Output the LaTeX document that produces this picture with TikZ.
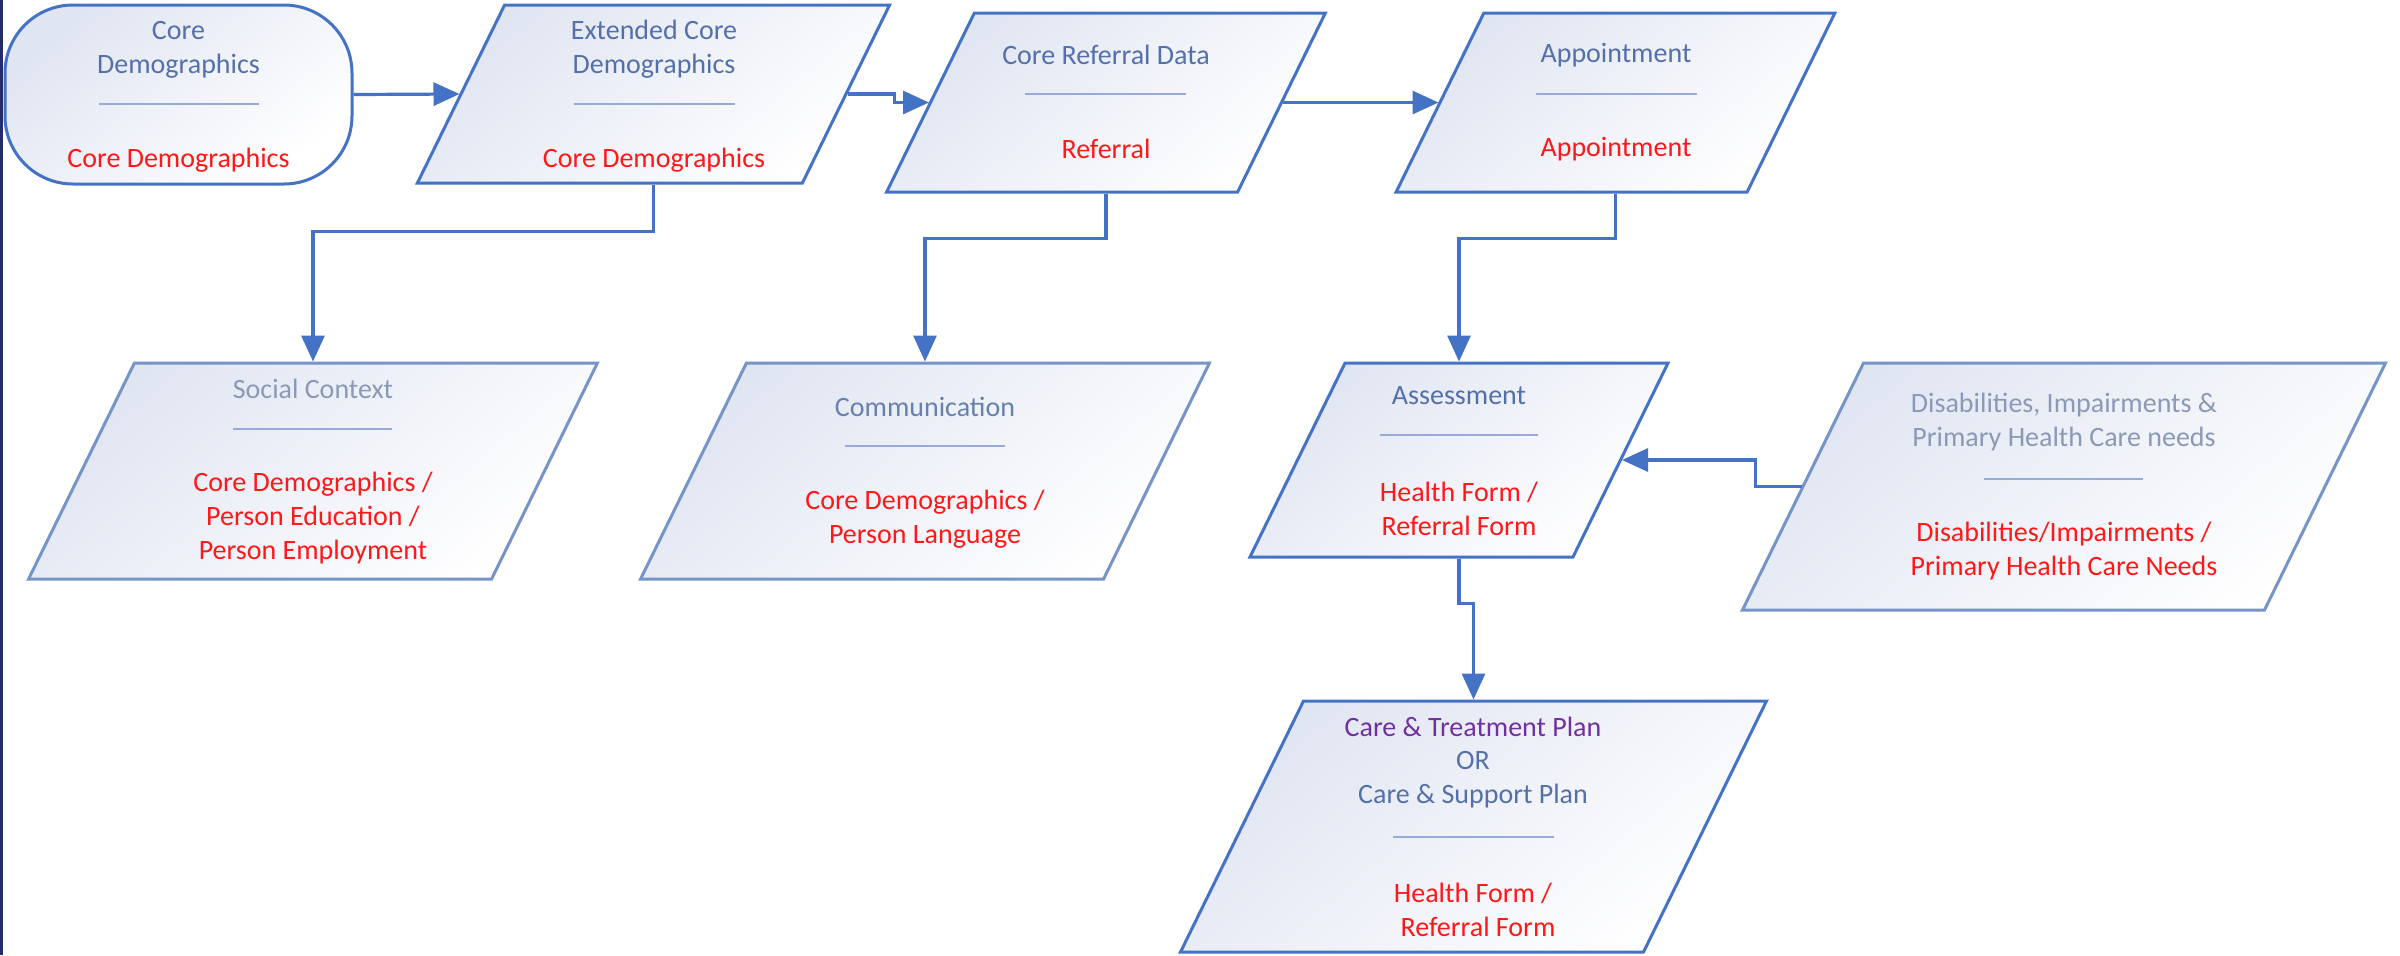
\documentclass[tikz,border=0pt]{standalone}
\usepackage{fontspec}
\setmainfont{Carlito}
\usetikzlibrary{shapes.geometric,arrows.meta,calc}
\definecolor{bdr}{RGB}{68,114,196}
\definecolor{bdrl}{RGB}{118,148,200}
\definecolor{hdr}{RGB}{84,112,170}
\definecolor{hdrm}{RGB}{104,128,172}
\definecolor{hdrl}{RGB}{138,154,182}
\definecolor{redt}{RGB}{255,24,24}
\definecolor{purp}{RGB}{112,48,160}
\definecolor{divc}{RGB}{150,172,215}
\definecolor{fillc}{RGB}{224,229,242}
\definecolor{navy}{RGB}{35,45,110}
\begin{document}
\begin{tikzpicture}[x=0.5pt,y=-0.5pt,
  shapebase/.style={draw=#1, line width=1.5pt, top color=fillc, bottom color=white, shading angle=40, inner sep=0pt},
  para/.style n args={3}{shapebase=#3, shape=rectangle, xslant=0.49,
     minimum width=#1*0.5pt, minimum height=#2*0.5pt},
  termbox/.style={shapebase=bdr, shape=rectangle, rounded corners=34pt, minimum width=347*0.5pt, minimum height=179*0.5pt},
  txt/.style={inner sep=0pt, align=center, font=\fontsize{14}{17}\selectfont},
  hd/.style={txt, text=#1},
  rd/.style={txt, text=redt},
  divl/.style={draw=divc, line width=1.4pt},
  conn/.style={draw=bdr, line width=1.6pt, -{Triangle[length=13pt,width=11.5pt]}}]
\useasboundingbox (0,0) rectangle (2400,955);
\fill[white] (0,0) rectangle (2400,955);
\fill[navy] (0,0) rectangle (3,955);

% shapes
\node[termbox] (term) at (178.5,94.5) {};
\node[para={385}{178}{bdr}] (ext) at (653.5,94) {};
\node[para={351}{179}{bdr}] (ref) at (1106,102.5) {};
\node[para={351}{179}{bdr}] (app) at (1615.5,102.5) {};
\node[para={463}{216}{bdrl}] (soc) at (313,471) {};
\node[para={463}{216}{bdrl}] (com) at (925,471) {};
\node[para={323}{194}{bdr}] (ass) at (1459,460) {};
\node[para={522}{247}{bdrl}] (dis) at (2064,486.5) {};
\node[para={463}{251}{bdr}] (care) at (1473.5,826.5) {};

% texts
\node[hd=hdr] (termh) at (178.5,50) {Core\\Demographics};
\draw[divl] (99,104) -- (259,104);
\node[rd] (termr) at (178.5,160) {Core Demographics};

\node[hd=hdr] (exth) at (654,49.5) {Extended Core\\Demographics};
\draw[divl] (574,104) -- (735,104);
\node[rd] (extr) at (654,160) {Core Demographics};

\node[hd=hdr] (refh) at (1106,55) {Core Referral Data};
\draw[divl] (1025,94) -- (1186,94);
\node[rd] (refr) at (1106,149) {Referral};

\node[hd=hdr] (apph) at (1616,55) {Appointment};
\draw[divl] (1536,94) -- (1697,94);
\node[rd] (appr) at (1616,149) {Appointment};

\node[hd=hdrl] (soch) at (313,389) {Social Context};
\draw[divl] (233,429) -- (392,429);
\node[rd] (socr) at (313,518.5) {Core Demographics /\\Person Education /\\Person Employment};

\node[hd=hdrm] (comh) at (925,407) {Communication};
\draw[divl] (845,446) -- (1005,446);
\node[rd] (comr) at (925,519.5) {Core Demographics /\\Person Language};

\node[hd=hdr] (assh) at (1459,396) {Assessment};
\draw[divl] (1380,435) -- (1538,435);
\node[rd] (assr) at (1459,508.5) {Health Form /\\Referral Form};

\node[hd=hdrl] (dish) at (2064,422) {Disabilities, Impairments \&\\Primary Health Care needs};
\draw[divl] (1984,479) -- (2143,479);
\node[rd] (disr) at (2064,551.5) {Disabilities/Impairments /\\Primary Health Care Needs};

\node[hd=purp] (careh1) at (1473,727) {Care \& Treatment Plan};
\node[hd=hdr] (careh2) at (1473,780) {OR\\Care \& Support Plan};
\draw[divl] (1393,837) -- (1554,837);
\node[rd] (carer) at (1473,909.5) {Health Form /\\\hspace*{5pt}Referral Form};

% connectors
\draw[conn] (term.east) -- (ext.west);
\draw[conn] (ext.east) -- ++(47,0) |- (ref.west);
\draw[conn] (ref.east) -- (app.west);
\draw[conn] (ext.center |- ext.south) -- ++(0,47) -| (soc.center |- soc.north);
\draw[conn] (ref.center |- ref.south) -- ++(0,45) -| (com.center |- com.north);
\draw[conn] (app.center |- app.south) -- ++(0,45) -| (ass.center |- ass.north);
\draw[conn] (dis.west) -- ++(-46,0) |- (ass.east);
\draw[conn] (ass.center |- ass.south) -- ++(0,45) -| (care.center |- care.north);
\end{tikzpicture}
\end{document}
